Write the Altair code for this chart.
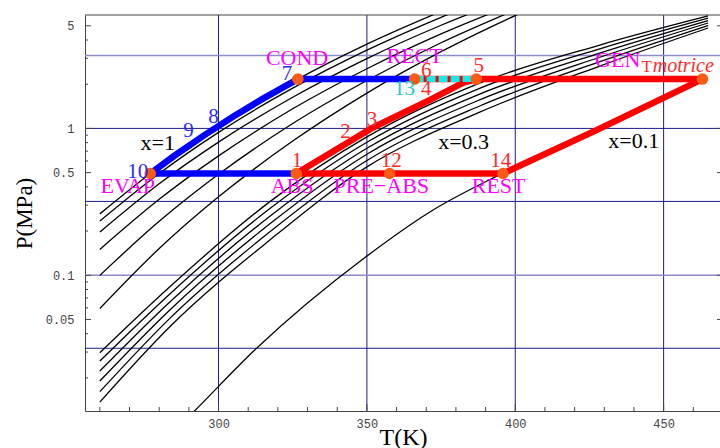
import altair as alt
import pandas as pd

# ---------------- axis / grid values ----------------
x_tick_labels = [300, 350, 400, 450]
y_tick_labels = [0.05, 0.1, 0.5, 1, 5]
x_minor_ticks = [260, 270, 280, 290, 310, 320, 330, 340, 360, 370, 380, 390,
                 410, 420, 430, 440, 460]
y_minor_ticks = [0.02, 0.03, 0.04, 0.06, 0.07, 0.08, 0.09, 0.2, 0.3, 0.4,
                 0.6, 0.7, 0.8, 0.9, 2, 3, 4]
grid_T = [300, 350, 400, 450]
grid_P_light = [3.1416, 0.1]
grid_P_dark = [1.0, 0.3183, 0.03183]

# ---------------- isosteres (T in K, P in MPa) ----------------
T_upper = [260, 280, 300, 325, 350, 375, 400, 430]
iso_U1 = [0.2618, 0.5483, 1.040, 2.075, 3.750, 6.266]
iso_U2 = [0.234, 0.493, 0.940, 1.88, 3.41, 5.71, 8.97]
iso_U3 = [0.197, 0.420, 0.807, 1.63, 2.99, 5.04, 7.96]
iso_U4 = [0.150, 0.329, 0.650, 1.36, 2.55, 4.40, 7.08]
iso_U5 = [0.0998, 0.233, 0.487, 1.08, 2.12, 3.83, 6.40]
iso_U6 = [0.0594, 0.152, 0.342, 0.820, 1.74, 3.33, 5.87, 10.6]

T_cluster = [260, 283.5, 317.2, 350, 388, 428.5, 465]
iso_C1 = [0.0297, 0.0832, 0.316, 0.876, 2.036, 3.697, 5.830]
iso_C2 = [0.02604, 0.07433, 0.2836, 0.8052, 1.876, 3.483, 5.630]
iso_C3 = [0.02227, 0.06556, 0.2513, 0.7328, 1.713, 3.262, 5.423]
iso_C4 = [0.01904, 0.05781, 0.2230, 0.6671, 1.564, 3.052, 5.222]
iso_C5 = [0.01611, 0.05068, 0.1967, 0.6042, 1.421, 2.849, 5.022]
iso_C6 = [0.01369, 0.04443, 0.1732, 0.5472, 1.291, 2.659, 4.828]

T_weak = [289, 291.9, 312.1, 349.9, 371.1, 395.8, 427.4, 463.2]
iso_weak = [0.0104, 0.0119, 0.03082, 0.1347, 0.2688, 0.4958, 0.9737, 2.168]

# ---------------- cycle ----------------
path_evap_cond_T = [276.97, 285, 295, 305, 315, 326.74]
path_evap_cond_P = [0.493, 0.6486, 0.8933, 1.205, 1.596, 2.168]
path_low_blue_T = [276.97, 326.2]
path_high_blue_T = [326.74, 366.08]
path_strong_T = [326.2, 342.5, 351.5, 371.1, 382.3, 386.88]
path_strong_P = [0.493, 0.778, 1.0, 1.56, 2.04, 2.168]
path_low_red_T = [326.2, 395.85]
path_weak_T = [395.85, 427.4, 463.08]
path_weak_P = [0.493, 0.9737, 2.168]
path_high_red_T = [366.08, 463.08]
path_rect_T = [366.08, 386.88]
P_low = 0.493
P_high = 2.168

state_T = [276.97, 326.74, 366.08, 386.88, 463.08, 326.2, 357.65, 395.85]
state_P = [P_low, P_high, P_high, P_high, P_high, P_low, P_low, P_low]

MAG = "#ff00ff"
BLU = "#2a2aff"
RED = "#ff2a2a"
CYA = "#22c8c8"
BLK = "#000000"

labels = [
    ("COND", 326.47, 2.701, MAG, 22),
    ("RECT", 366.08, 2.774, MAG, 22),
    ("GEN", 434.52, 2.617, MAG, 22),
    ("EVAP", 269.42, 0.3605, MAG, 22),
    ("ABS", 324.78, 0.3622, MAG, 22),
    ("PRE\u2212ABS", 354.85, 0.3622, MAG, 22),
    ("REST", 394.40, 0.3622, MAG, 22),
    ("10", 272.79, 0.4584, BLU, 21),
    ("9", 289.89, 0.8764, BLU, 21),
    ("8", 298.31, 1.0816, BLU, 21),
    ("7", 323.09, 2.134, BLU, 21),
    ("x=1", 279.53, 0.7112, BLK, 22),
    ("1", 326.47, 0.5472, RED, 21),
    ("2", 342.82, 0.8547, RED, 21),
    ("3", 351.75, 1.0368, RED, 21),
    ("12", 358.23, 0.5472, RED, 21),
    ("14", 395.08, 0.5472, RED, 21),
    ("6", 370.03, 2.237, RED, 21),
    ("13", 362.71, 1.6866, CYA, 21),
    ("4", 370.03, 1.6866, RED, 21),
    ("5", 387.66, 2.43, RED, 21),
    ("x=0.3", 382.60, 0.7192, BLK, 22),
    ("x=0.1", 439.92, 0.7306, BLK, 22),
    ("T", 444.30, 2.42, RED, 17),
]
italic_labels = [("motrice", 446.33, 2.42, RED, 20)]

# ---------------- tables ----------------
def curve_rows(name, Ts, Ps):
    return [{"curve": name, "T": t, "P": p, "i": k} for k, (t, p) in enumerate(zip(Ts, Ps))]

rows = []
for nm, ps in [("U1", iso_U1), ("U2", iso_U2), ("U3", iso_U3), ("U4", iso_U4),
               ("U5", iso_U5), ("U6", iso_U6)]:
    rows += curve_rows(nm, T_upper, ps)
for nm, ps in [("C1", iso_C1), ("C2", iso_C2), ("C3", iso_C3), ("C4", iso_C4),
               ("C5", iso_C5), ("C6", iso_C6)]:
    rows += curve_rows(nm, T_cluster, ps)
rows += curve_rows("W", T_weak, iso_weak)
curves_df = pd.DataFrame(rows)

cyc = []
def add_path(name, Ts, Ps, col):
    for k, (t, p) in enumerate(zip(Ts, Ps)):
        cyc.append({"path": name, "T": t, "P": p, "i": k, "col": col})

add_path("b1", path_evap_cond_T, path_evap_cond_P, "#0000ff")
add_path("b2", path_low_blue_T, [P_low, P_low], "#0000ff")
add_path("b3", path_high_blue_T, [P_high, P_high], "#0000ff")
add_path("r1", path_strong_T, path_strong_P, "#ff0000")
add_path("r2", path_low_red_T, [P_low, P_low], "#ff0000")
add_path("r3", path_weak_T, path_weak_P, "#ff0000")
add_path("r4", path_high_red_T, [P_high, P_high], "#ff0000")
cycle_df = pd.DataFrame(cyc)
rect_df = pd.DataFrame({"T": path_rect_T, "P": [P_high, P_high], "i": [0, 1]})
states_df = pd.DataFrame({"T": state_T, "P": state_P})
labels_df = pd.DataFrame(labels, columns=["text", "T", "P", "col", "fs"])
ital_df = pd.DataFrame(italic_labels, columns=["text", "T", "P", "col", "fs"])

W, H = 635, 396

xs = alt.Scale(domain=[255, 469], nice=False, zero=False)
ys = alt.Scale(type="log", domain=[0.0119, 5.92], nice=False)

x_axis = alt.Axis(values=x_tick_labels, ticks=False, grid=False, domain=True,
                  domainColor="#444444", labelFont="Liberation Mono", labelFontSize=12,
                  labelColor="#444444", labelPadding=7, labelFlush=False,
                  title="T(K)", titleFont="Liberation Serif", titleFontSize=24,
                  titleFontWeight="normal", titleColor="black", titleX=318, titleY=14,
                  titleAlign="center", titleBaseline="top")
y_axis = alt.Axis(values=y_tick_labels, format=".2~f", ticks=False, grid=False,
                  domain=True, domainColor="#444444", labelFont="Liberation Mono",
                  labelFontSize=12, labelColor="#444444", labelPadding=11,
                  labelFlush=False, labelOverlap=False,
                  title="P(MPa)", titleFont="Liberation Serif", titleFontSize=23,
                  titleFontWeight="normal", titleColor="black", titleAngle=270,
                  titleX=-61, titleY=198, titleAlign="center", titleBaseline="middle")

X = alt.X("T:Q", scale=xs, axis=x_axis)
Y = alt.Y("P:Q", scale=ys, axis=y_axis)

gT = pd.DataFrame({"T": grid_T})
g_light = pd.DataFrame({"P": grid_P_light})
g_dark = pd.DataFrame({"P": grid_P_dark})
xmin = pd.DataFrame({"T": x_minor_ticks})
xmaj = pd.DataFrame({"T": x_tick_labels})
ymin = pd.DataFrame({"P": y_minor_ticks})
ymaj = pd.DataFrame({"P": y_tick_labels})
one = pd.DataFrame({"k": [0]})

layers = [
    alt.Chart(gT).mark_rule(color="#1c1c86", strokeWidth=1).encode(x=X),
    alt.Chart(g_light).mark_rule(color="#8c8cc8", strokeWidth=1.5).encode(y=Y),
    alt.Chart(g_dark).mark_rule(color="#1c1c86", strokeWidth=1).encode(y=Y),
    alt.Chart(xmin).mark_rule(color="#444444").encode(x=X, y=alt.value(H), y2=alt.value(H - 4)),
    alt.Chart(xmaj).mark_rule(color="#444444").encode(x=X, y=alt.value(H), y2=alt.value(H - 7)),
    alt.Chart(ymin).mark_rule(color="#444444").encode(y=Y, x=alt.value(0), x2=alt.value(3)),
    alt.Chart(ymaj).mark_rule(color="#444444").encode(y=Y, x=alt.value(0), x2=alt.value(6)),
    alt.Chart(ymaj).mark_rule(color="#444444").encode(y=Y, x=alt.value(W - 3), x2=alt.value(W)),
    alt.Chart(one).mark_rule(color="#444444").encode(x=alt.value(0), x2=alt.value(W), y=alt.value(0)),
    alt.Chart(curves_df).mark_line(color="black", strokeWidth=1.3, interpolate="monotone", clip=True)
        .encode(x=X, y=Y, detail="curve:N", order="i:Q"),
    alt.Chart(cycle_df).mark_line(strokeWidth=6.5, clip=True)
        .encode(x=X, y=Y, detail="path:N", order="i:Q", color=alt.Color("col:N", scale=None)),
    alt.Chart(rect_df).mark_line(color="#10ecec", strokeWidth=6, strokeDash=[9, 3])
        .encode(x=X, y=Y, order="i:Q"),
    alt.Chart(states_df).mark_circle(size=135, color="#ff5a14", opacity=1).encode(x=X, y=Y),
    alt.Chart(labels_df).mark_text(font="Liberation Serif", baseline="alphabetic", align="center")
        .encode(x=X, y=Y, text="text:N", color=alt.Color("col:N", scale=None),
                size=alt.Size("fs:Q", scale=None)),
    alt.Chart(ital_df).mark_text(font="Liberation Serif", fontStyle="italic",
                                 baseline="alphabetic", align="left")
        .encode(x=X, y=Y, text="text:N", color=alt.Color("col:N", scale=None),
                size=alt.Size("fs:Q", scale=None)),
]

chart = alt.layer(*layers).properties(
    width=W, height=H,
    padding={"left": 85, "top": 15, "right": 0, "bottom": 37},
    autosize=alt.AutoSizeParams(type="none"),
    background="white",
).configure_view(stroke=None)

chart.save("out.html", embed_options={"renderer": "svg", "actions": False})
